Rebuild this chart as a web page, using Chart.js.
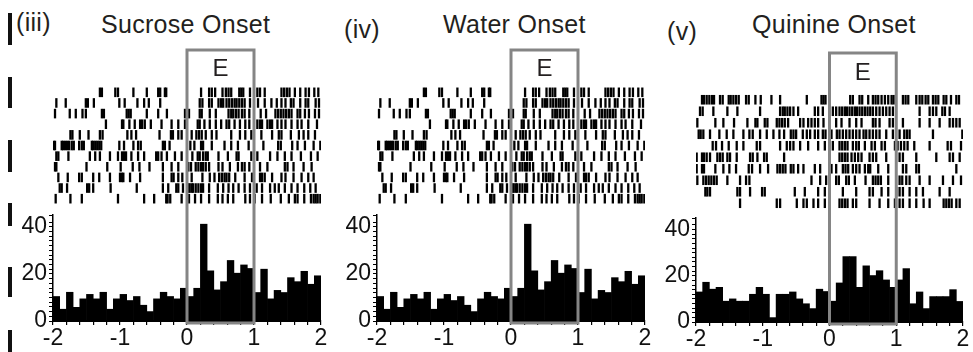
<!DOCTYPE html>
<html>
<head>
<meta charset="utf-8">
<script src="https://cdn.jsdelivr.net/npm/chart.js@4.4.0/dist/chart.umd.min.js"></script>
<style>
  body { margin: 0; background: #fff; width: 973px; height: 352px; overflow: hidden; position: relative; font-family: "Liberation Sans", Arial, sans-serif; }
  canvas { position: absolute; top: 0; }
  .lbl { position: absolute; font-size: 25px; line-height: 24px; letter-spacing: 0.3px; color: #231f20; white-space: nowrap; }
  .edge { position: absolute; left: 8px; width: 4px; background: #111; }
</style>
</head>
<body>
<div class="edge" style="top:13px;height:32px"></div>
<div class="edge" style="top:77px;height:31px"></div>
<div class="edge" style="top:140px;height:32px"></div>
<div class="edge" style="top:203px;height:23px"></div>
<div class="edge" style="top:267px;height:30px"></div>
<div class="edge" style="top:330px;height:22px"></div>

<div class="lbl" style="left:16px;top:10px">(iii)</div>
<div class="lbl" style="left:101px;top:12px">Sucrose Onset</div>
<div class="lbl" style="left:344px;top:17px">(iv)</div>
<div class="lbl" style="left:443px;top:12px">Water Onset</div>
<div class="lbl" style="left:667px;top:19px">(v)</div>
<div class="lbl" style="left:752px;top:12px">Quinine Onset</div>

<canvas id="r1" width="320" height="352" style="left:13px"></canvas>
<canvas id="h1" width="320" height="352" style="left:13px"></canvas>
<canvas id="r2" width="320" height="352" style="left:337px"></canvas>
<canvas id="h2" width="320" height="352" style="left:337px"></canvas>
<canvas id="r3" width="317" height="352" style="left:656px"></canvas>
<canvas id="h3" width="317" height="352" style="left:656px"></canvas>

<script>
// epoch window (s) marked by the grey box
const epochStart = 0;
const epochEnd = 1;

// PSTH bins, 100 ms, centres in s
const binCenters = [-1.95, -1.85, -1.75, -1.65, -1.55, -1.45, -1.35, -1.25, -1.15, -1.05,
  -0.95, -0.85, -0.75, -0.65, -0.55, -0.45, -0.35, -0.25, -0.15, -0.05,
  0.05, 0.15, 0.25, 0.35, 0.45, 0.55, 0.65, 0.75, 0.85, 0.95,
  1.05, 1.15, 1.25, 1.35, 1.45, 1.55, 1.65, 1.75, 1.85, 1.95];

const sucroseCounts = [10.4, 5, 12.2, 5.8, 9.4, 11.3, 9.4, 12.2, 5, 9.4,
  11.3, 8.7, 10.4, 6.7, 4, 9.4, 12.2, 10.4, 9.4, 13.9,
  10.4, 13.9, 41.1, 21.3, 13.2, 16.7, 25.7, 20.3, 23.8, 22.3,
  12.1, 22, 9.4, 13, 12.1, 18.4, 16.7, 21.1, 15.6, 19.2];

const waterCounts = [10.4, 5, 12.2, 5.8, 9.4, 11.3, 9.4, 12.2, 5, 9.4,
  11.3, 8.7, 10.4, 6.7, 4, 9.4, 12.2, 10.4, 9.4, 13.9,
  10.4, 13.9, 41.1, 21.3, 13.2, 16.7, 25.7, 20.3, 23.8, 22.3,
  12.1, 22, 9.4, 13, 12.1, 18.4, 16.7, 21.1, 15.6, 19.2];

const quinineCounts = [13, 17.2, 14.2, 15, 9, 10, 9, 9, 12, 15,
  12, 1.9, 12, 12, 13, 10, 7.9, 5.8, 14.2, 13.2,
  9, 16.9, 28.3, 28.3, 15, 24.3, 20.1, 22.2, 18.2, 15,
  18.2, 23.1, 7.9, 13, 5.8, 11, 11, 11, 14, 8.9];

// spike times (s) per trial, one array per raster row
const sucroseRaster = [
  [-1.30, -1.27, -1.07, -1.03, -0.80, -0.60, -0.43, -0.40, -0.33, -0.31, 0.21, 0.33, 0.37, 0.42, 0.53, 0.58, 0.62, 0.66, 0.78, 0.81, 0.84, 0.94, 1.05, 1.09, 1.16, 1.41, 1.45, 1.49, 1.53, 1.61, 1.69, 1.77, 1.82, 1.90, 1.96],
  [-1.95, -1.81, -1.51, -1.48, -1.39, -1.01, -0.93, -0.74, -0.64, -0.57, -0.40, 0.19, 0.23, 0.33, 0.37, 0.47, 0.51, 0.54, 0.59, 0.63, 0.67, 0.71, 0.74, 0.78, 0.82, 0.86, 0.94, 1.06, 1.16, 1.26, 1.34, 1.41, 1.47, 1.55, 1.59, 1.69, 1.77, 1.81, 1.92, 1.97],
  [-1.97, -1.75, -1.66, -1.56, -1.51, -1.27, -1.24, -0.90, -0.87, -0.84, -0.60, -0.43, -0.30, -0.03, 0.03, 0.19, 0.22, 0.34, 0.43, 0.62, 0.66, 0.69, 0.73, 0.77, 0.82, 0.86, 0.93, 1.10, 1.18, 1.32, 1.36, 1.40, 1.44, 1.48, 1.52, 1.56, 1.65, 1.69, 1.76, 1.82, 1.91, 1.97],
  [-1.21, -0.97, -0.95, -0.86, -0.78, -0.70, -0.67, -0.63, -0.54, -0.38, -0.23, -0.13, -0.03, 0.16, 0.19, 0.26, 0.34, 0.43, 0.51, 0.59, 0.63, 0.71, 0.79, 0.87, 0.93, 1.05, 1.09, 1.12, 1.20, 1.24, 1.27, 1.35, 1.41, 1.47, 1.56, 1.65, 1.71, 1.81, 1.94],
  [-1.74, -1.71, -1.60, -1.47, -1.30, -1.26, -0.89, -0.83, -0.76, -0.41, -0.24, -0.21, -0.13, -0.08, 0.07, 0.14, 0.18, 0.22, 0.28, 0.37, 0.44, 0.66, 0.79, 0.87, 0.96, 1.11, 1.27, 1.37, 1.41, 1.55, 1.67, 1.74, 1.81, 1.91],
  [-1.99, -1.97, -1.87, -1.85, -1.82, -1.79, -1.76, -1.72, -1.69, -1.61, -1.57, -1.54, -1.42, -1.40, -1.37, -1.34, -1.31, -1.28, -1.01, -0.94, -0.80, -0.73, -0.69, -0.36, -0.33, -0.26, 0.05, 0.11, 0.21, 0.24, 0.37, 0.56, 0.66, 0.76, 0.92, 1.14, 1.36, 1.40, 1.57, 1.65, 1.76, 1.89, 1.99],
  [-1.95, -1.92, -1.77, -1.45, -1.37, -1.30, -1.15, -1.03, -0.97, -0.94, -0.91, -0.83, -0.73, -0.64, -0.46, -0.43, -0.38, -0.30, -0.18, -0.08, 0.08, 0.16, 0.19, 0.24, 0.28, 0.31, 0.47, 0.61, 0.74, 0.77, 0.96, 1.05, 1.24, 1.35, 1.46, 1.56, 1.70, 1.85, 1.95],
  [-1.97, -1.95, -1.50, -1.19, -0.99, -0.81, -0.71, -0.56, -0.36, -0.23, -0.13, 0.02, 0.06, 0.13, 0.17, 0.21, 0.24, 0.28, 0.33, 0.47, 0.53, 0.64, 0.76, 0.82, 0.86, 0.93, 1.09, 1.20, 1.46, 1.50, 1.59, 1.74, 1.86],
  [-1.92, -1.78, -1.61, -1.57, -1.40, -1.31, -1.15, -1.00, -0.97, -0.95, -0.85, -0.70, -0.36, -0.23, -0.20, -0.13, -0.07, 0.07, 0.23, 0.34, 0.41, 0.48, 0.52, 0.56, 0.59, 0.63, 0.72, 0.86, 0.97, 1.09, 1.12, 1.16, 1.27, 1.41, 1.47, 1.59, 1.71, 1.81, 1.89],
  [-1.90, -1.87, -1.79, -1.49, -1.46, -1.40, -1.14, -0.75, -0.36, -0.28, -0.16, -0.13, -0.06, 0.02, 0.04, 0.07, 0.09, 0.13, 0.17, 0.21, 0.24, 0.33, 0.46, 0.54, 0.62, 0.69, 0.77, 0.86, 0.94, 1.04, 1.12, 1.24, 1.31, 1.37, 1.46, 1.56, 1.65, 1.75, 1.84, 1.92],
  [-1.96, -1.74, -1.57, -1.03, -0.64, -0.49, -0.31, -0.29, -0.25, -0.08, 0.03, 0.12, 0.21, 0.33, 0.46, 0.53, 0.61, 0.69, 0.87, 0.94, 1.01, 1.12, 1.25, 1.40, 1.52, 1.61, 1.65, 1.75, 1.85, 1.89, 1.92, 1.95, 1.99]
];

// the water raster is the same unit/trials as the sucrose one in the figure
const waterRaster = sucroseRaster;

const quinineRaster = [
  [-1.91, -1.88, -1.84, -1.80, -1.76, -1.73, -1.64, -1.60, -1.51, -1.48, -1.44, -1.40, -1.36, -1.25, -1.21, -1.11, -1.03, -0.87, -0.74, -0.34, -0.12, -0.09, -0.06, 0.31, 0.35, 0.45, 0.49, 0.58, 0.65, 0.69, 0.73, 0.78, 0.83, 0.88, 0.93, 0.96, 1.10, 1.14, 1.18, 1.30, 1.35, 1.39, 1.44, 1.48, 1.55, 1.59, 1.63, 1.71, 1.75, 1.82, 1.90, 1.94],
  [-1.94, -1.90, -1.74, -1.53, -1.38, -1.04, -0.74, -0.70, -0.67, -0.63, -0.59, -0.54, -0.47, -0.22, -0.17, -0.10, 0.05, 0.10, 0.15, 0.19, 0.23, 0.26, 0.30, 0.34, 0.38, 0.41, 0.45, 0.49, 0.53, 0.57, 0.61, 0.65, 0.70, 0.75, 0.80, 0.85, 0.90, 0.95, 1.35, 1.50, 1.55, 1.60, 1.69, 1.73, 1.80],
  [-1.98, -1.71, -1.59, -1.43, -1.23, -1.11, -1.08, -0.97, -0.93, -0.79, -0.75, -0.71, -0.67, -0.62, -0.44, -0.39, -0.32, -0.27, -0.22, -0.17, -0.09, 0.10, 0.18, 0.30, 0.40, 0.48, 0.65, 0.69, 0.75, 0.90, 0.95, 1.10, 1.35, 1.50, 1.65, 1.80, 1.85, 1.90, 1.95],
  [-1.96, -1.93, -1.89, -1.79, -1.65, -1.54, -1.44, -1.29, -1.20, -1.15, -1.04, -0.94, -0.84, -0.75, -0.68, -0.58, -0.54, -0.50, -0.40, -0.34, -0.29, -0.22, -0.17, -0.10, -0.06, 0.03, 0.11, 0.15, 0.20, 0.25, 0.30, 0.35, 0.40, 0.45, 0.51, 0.55, 0.60, 0.65, 0.70, 0.75, 0.85, 0.95, 1.05, 1.12, 1.16, 1.20, 1.55, 1.99],
  [-1.75, -1.70, -1.61, -1.51, -1.39, -1.29, -1.09, -1.04, -0.74, -0.64, -0.59, -0.54, -0.44, -0.32, -0.17, -0.07, 0.05, 0.15, 0.19, 0.23, 0.27, 0.35, 0.40, 0.44, 0.53, 0.63, 0.68, 0.78, 0.83, 0.98, 1.02, 1.07, 1.12, 1.17, 1.27, 1.50, 1.77, 1.82, 1.97],
  [-1.99, -1.91, -1.88, -1.84, -1.79, -1.68, -1.64, -1.60, -1.53, -1.49, -1.39, -1.19, -1.15, -1.08, -0.98, -0.94, -0.68, 0.15, 0.19, 0.23, 0.27, 0.33, 0.38, 0.43, 0.48, 0.60, 0.65, 0.70, 0.85, 1.05, 1.10, 1.30, 1.60, 1.80, 1.85, 1.95],
  [-1.99, -1.91, -1.88, -1.71, -1.59, -1.50, -1.40, -1.21, -1.16, -1.04, -0.92, -0.78, -0.74, -0.70, -0.66, -0.58, -0.54, -0.47, -0.39, -0.22, -0.14, 0.03, 0.10, 0.20, 0.24, 0.28, 0.35, 0.40, 0.45, 0.53, 0.58, 0.61, 0.73, 0.88, 1.10, 1.15, 1.30, 1.34, 1.90],
  [-1.98, -1.89, -1.85, -1.81, -1.77, -1.73, -1.69, -1.53, -1.34, -1.25, -1.20, -0.27, -0.14, -0.05, 0.00, 0.10, 0.14, 0.25, 0.29, 0.38, 0.54, 0.65, 0.69, 0.73, 0.77, 0.88, 1.05, 1.09, 1.15, 1.20, 1.35, 1.50, 1.70, 1.85, 1.97],
  [-1.86, -1.83, -1.79, -1.38, -1.34, -1.19, -1.01, -0.97, -0.52, -0.37, -0.17, -0.07, 0.20, 0.40, 0.60, 0.65, 0.78, 0.88, 1.00, 1.05, 1.10, 1.20, 1.30, 1.40, 1.65, 1.80],
  [-1.34, -0.79, -0.74, -0.49, -0.39, -0.34, -0.24, -0.17, -0.07, 0.15, 0.19, 0.23, 0.27, 0.35, 0.40, 0.60, 0.75, 0.88, 0.98, 1.05, 1.10, 1.20, 1.30, 1.41, 1.50, 1.71, 1.75, 1.79, 1.83, 1.90, 1.95]
];

const xTickStep = 0.2;
const yTickStep = 2;
const yLabelled = [0, 20, 40];

const fontFamily = '"Liberation Sans", Arial, sans-serif';
const boxColor = '#858585';

// grey epoch box + "E" label, drawn over raster and histogram
const epochBox = {
  id: 'epochBox',
  afterDraw(chart, args, opts) {
    const ctx = chart.ctx;
    const x0 = chart.scales.x.getPixelForValue(epochStart);
    const x1 = chart.scales.x.getPixelForValue(epochEnd);
    ctx.save();
    ctx.strokeStyle = boxColor;
    ctx.lineWidth = 3;
    ctx.strokeRect(x0, opts.top, x1 - x0, opts.bottom - opts.top);
    ctx.fillStyle = '#231f20';
    ctx.font = '24px ' + fontFamily;
    ctx.textAlign = 'center';
    ctx.textBaseline = 'middle';
    ctx.fillText('E', (x0 + x1) / 2, opts.labelY);
    ctx.restore();
  }
};

function makeRaster(id, rows, g) {
  const h = document.getElementById(id).height;
  new Chart(document.getElementById(id), {
    type: 'scatter',
    data: {
      datasets: rows.map((row, i) => ({
        data: row.map(t => ({ x: t, y: i + 1 })),
        pointStyle: 'line',
        rotation: 90,
        pointRadius: g.tick,
        borderColor: '#000',
        backgroundColor: '#000',
        borderWidth: 2.3
      }))
    },
    options: {
      responsive: false,
      animation: false,
      events: [],
      layout: { padding: { left: 40, right: g.padR, top: g.rTop, bottom: h - g.rBottom } },
      plugins: { legend: { display: false }, tooltip: { enabled: false } },
      scales: {
        x: { type: 'linear', min: -2, max: 2, display: false },
        y: { type: 'linear', min: 0.5, max: rows.length + 0.5, reverse: true, display: false }
      }
    }
  });
}

function makeHist(id, counts, g) {
  const h = document.getElementById(id).height;
  new Chart(document.getElementById(id), {
    type: 'bar',
    data: {
      datasets: [{
        data: binCenters.map((c, i) => ({ x: c, y: counts[i] })),
        backgroundColor: '#000',
        borderWidth: 0,
        barPercentage: 1,
        categoryPercentage: 1
      }]
    },
    options: {
      responsive: false,
      animation: false,
      events: [],
      layout: { padding: { left: 0, right: g.padR, top: g.hTop, bottom: 0 } },
      plugins: {
        legend: { display: false },
        tooltip: { enabled: false },
        epochBox: { top: g.boxTop, bottom: g.hBottom + 2, labelY: g.eY }
      },
      scales: {
        x: {
          type: 'linear', min: -2, max: 2, offset: false,
          grid: { drawOnChartArea: false, tickLength: 4, color: '#000', lineWidth: 1.2, offset: false },
          border: { color: '#000', width: 2 },
          ticks: {
            stepSize: xTickStep, autoSkip: false, maxRotation: 0, padding: 0,
            color: '#111', font: { size: 23, family: fontFamily },
            callback: v => Math.abs(v - Math.round(v)) < 1e-6 ? String(Math.round(v)) : ''
          },
          afterFit: s => { s.height = h - g.hBottom; s.paddingLeft = 0; s.paddingRight = 0; }
        },
        y: {
          min: 0, max: 45,
          grid: { drawOnChartArea: false, tickLength: 4, color: '#000', lineWidth: 1 },
          border: { color: '#000', width: 1.5 },
          ticks: {
            stepSize: yTickStep, autoSkip: false, padding: 2,
            color: '#111', font: { size: 23, family: fontFamily },
            callback: v => yLabelled.includes(v) ? String(v) : ''
          },
          afterFit: s => { s.width = 40; s.paddingTop = 0; s.paddingBottom = 0; }
        }
      }
    },
    plugins: [epochBox]
  });
}

const geoA = { padR: 12, rTop: 87, rBottom: 204, tick: 4.8, hTop: 215, hBottom: 321, boxTop: 50, eY: 69 };
const geoB = { padR: 10, rTop: 94, rBottom: 209, tick: 4.8, hTop: 218, hBottom: 322, boxTop: 53, eY: 73 };

makeRaster('r1', sucroseRaster, geoA);
makeHist('h1', sucroseCounts, geoA);
makeRaster('r2', waterRaster, geoA);
makeHist('h2', waterCounts, geoA);
makeRaster('r3', quinineRaster, geoB);
makeHist('h3', quinineCounts, geoB);
</script>
</body>
</html>
